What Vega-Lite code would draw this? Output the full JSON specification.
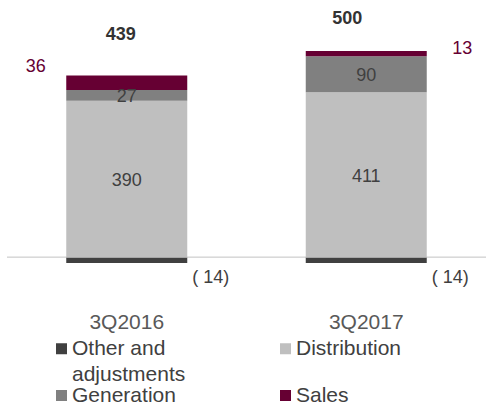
{
  "$schema": "https://vega.github.io/schema/vega-lite/v6.json",
  "width": 479,
  "height": 263,
  "autosize": {"type": "none"},
  "padding": {"left": 7, "top": 0, "right": 0, "bottom": 144},
  "config": {"view": {"stroke": null}, "font": "Liberation Sans"},
  "data": {"values": [
    {"period": "3Q2016", "segment": "Other and adjustments", "value": -14},
    {"period": "3Q2016", "segment": "Distribution", "value": 390},
    {"period": "3Q2016", "segment": "Generation", "value": 27},
    {"period": "3Q2016", "segment": "Sales", "value": 36},
    {"period": "3Q2017", "segment": "Other and adjustments", "value": -14},
    {"period": "3Q2017", "segment": "Distribution", "value": 411},
    {"period": "3Q2017", "segment": "Generation", "value": 90},
    {"period": "3Q2017", "segment": "Sales", "value": 13}
  ]},
  "encoding": {
    "x": {"field": "period", "type": "nominal", "title": null,
      "scale": {"paddingInner": 0, "paddingOuter": 0},
      "axis": {"orient": "bottom", "domain": false, "ticks": false, "tickSize": 0, "labelAngle": 0,
        "labelPadding": 48, "labelFontSize": 21, "labelColor": "#595959", "labelFont": "Liberation Sans"}}
  },
  "layer": [
    {
      "mark": {"type": "rule", "color": "#D9D9D9", "strokeWidth": 1},
      "encoding": {"y": {"datum": 0, "type": "quantitative", "scale": {"domain": [-14, 641], "nice": false, "zero": false}, "axis": null}, "x": null}
    },
    {
      "mark": {"type": "bar", "size": 121},
      "encoding": {
        "y": {"field": "value", "type": "quantitative", "stack": "zero", "scale": {"domain": [-14, 641], "nice": false, "zero": false}, "axis": null},
        "order": {"field": "segment", "type": "nominal", "sort": "ascending"},
        "color": {"field": "segment", "type": "nominal",
          "scale": {"domain": ["Other and adjustments", "Distribution", "Generation", "Sales"], "range": ["#404040", "#BFBFBF", "#808080", "#660033"]},
          "legend": {"orient": "none", "legendX": 44, "legendY": 338, "columns": 2, "direction": "horizontal", "title": null,
            "symbolType": "square", "symbolSize": 121, "symbolStrokeWidth": 0, "labelFontSize": 21, "labelColor": "#404040",
            "labelFont": "Liberation Sans", "labelOffset": 0, "padding": 0, "columnPadding": 89, "rowPadding": -5,
            "labelBaseline": "top", "labelLimit": 300,
            "labelExpr": "datum.label == 'Other and adjustments' ? ['Other and', 'adjustments'] : datum.label == 'Distribution' ? ['Distribution', ''] : datum.label",
            "encode": {"labels": {"update": {"dy": {"value": -11}, "lineHeight": {"value": 26}}}}}
        }
      }
    },
    {
      "transform": [
        {"stack": "value", "groupby": ["period"], "sort": [{"field": "segment", "order": "ascending"}], "as": ["v0", "v1"]},
        {"filter": "datum.segment == 'Distribution' || datum.segment == 'Generation'"},
        {"calculate": "(datum.v0 + datum.v1) / 2", "as": "mid"}
      ],
      "mark": {"type": "text", "fontSize": 18, "color": "#404040", "baseline": "middle", "dy": 2},
      "encoding": {
        "y": {"field": "mid", "type": "quantitative", "scale": {"domain": [-14, 641], "nice": false, "zero": false}, "axis": null},
        "text": {"field": "value", "type": "quantitative"}
      }
    },
    {
      "transform": [
        {"stack": "value", "groupby": ["period"], "sort": [{"field": "segment", "order": "ascending"}], "as": ["v0", "v1"]},
        {"filter": "datum.segment == 'Sales' && datum.period == '3Q2016'"}
      ],
      "mark": {"type": "text", "fontSize": 18, "color": "#660033", "baseline": "middle", "dx": -91, "dy": -8},
      "encoding": {
        "y": {"field": "v1", "type": "quantitative", "scale": {"domain": [-14, 641], "nice": false, "zero": false}, "axis": null},
        "text": {"field": "value", "type": "quantitative"}
      }
    },
    {
      "transform": [
        {"stack": "value", "groupby": ["period"], "sort": [{"field": "segment", "order": "ascending"}], "as": ["v0", "v1"]},
        {"filter": "datum.segment == 'Sales' && datum.period == '3Q2017'"}
      ],
      "mark": {"type": "text", "fontSize": 18, "color": "#660033", "baseline": "middle", "dx": 96, "dy": -2},
      "encoding": {
        "y": {"field": "v1", "type": "quantitative", "scale": {"domain": [-14, 641], "nice": false, "zero": false}, "axis": null},
        "text": {"field": "value", "type": "quantitative"}
      }
    },
    {
      "transform": [
        {"filter": "datum.segment == 'Other and adjustments'"},
        {"calculate": "'( ' + abs(datum.value) + ')'", "as": "lbl"}
      ],
      "mark": {"type": "text", "fontSize": 18, "color": "#404040", "baseline": "middle", "dx": 84, "dy": 15},
      "encoding": {
        "y": {"field": "value", "type": "quantitative", "scale": {"domain": [-14, 641], "nice": false, "zero": false}, "axis": null},
        "text": {"field": "lbl", "type": "nominal"}
      }
    },
    {
      "transform": [
        {"filter": "datum.period == '3Q2016'"},
        {"aggregate": [{"op": "sum", "field": "value", "as": "total"}], "groupby": ["period"]}
      ],
      "mark": {"type": "text", "fontSize": 18, "fontWeight": "bold", "color": "#333333", "baseline": "middle", "dx": -6, "dy": -46},
      "encoding": {
        "y": {"field": "total", "type": "quantitative", "scale": {"domain": [-14, 641], "nice": false, "zero": false}, "axis": null},
        "text": {"field": "total", "type": "quantitative"}
      }
    },
    {
      "transform": [
        {"filter": "datum.period == '3Q2017'"},
        {"aggregate": [{"op": "sum", "field": "value", "as": "total"}], "groupby": ["period"]}
      ],
      "mark": {"type": "text", "fontSize": 18, "fontWeight": "bold", "color": "#333333", "baseline": "middle", "dx": -19, "dy": -38},
      "encoding": {
        "y": {"field": "total", "type": "quantitative", "scale": {"domain": [-14, 641], "nice": false, "zero": false}, "axis": null},
        "text": {"field": "total", "type": "quantitative"}
      }
    }
  ]
}
